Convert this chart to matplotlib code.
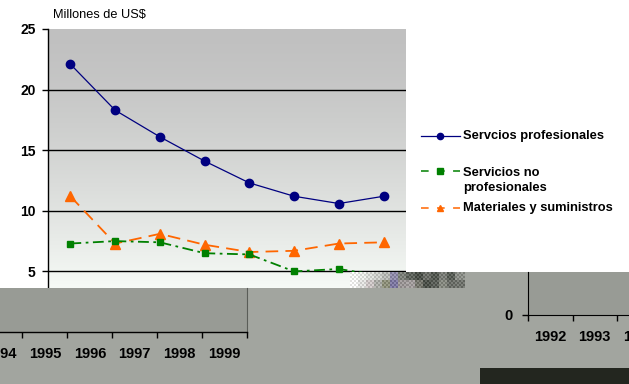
import numpy as np
import matplotlib.pyplot as plt
from matplotlib.patches import Rectangle
from matplotlib.lines import Line2D

# main chart
years = ['1992', '1993', '1994', '1995', '1996', '1997', '1998', '1999']
prof = [22.1, 18.3, 16.1, 14.1, 12.3, 11.2, 10.6, 11.2]
no_prof = [7.3, 7.5, 7.4, 6.5, 6.4, 5.0, 5.2, 4.6]
materiales = [11.2, 7.3, 8.1, 7.2, 6.6, 6.7, 7.3, 7.4]
yticks = [5, 10, 15, 20, 25]
labels = ['Servcios profesionales', 'Servicios no\nprofesionales', 'Materiales y suministros']

# pieces of the charts showing through underneath
lower_left_years = ['1994', '1995', '1996', '1997', '1998', '1999']
lower_right_years = ['1992', '1993', '1994']
lower_right_yticks = [0]

W, H = 629, 384


def fr(x, y, w, h):
    # pixel box, top-left origin -> figure rect
    return [x / W, 1 - (y + h) / H, w / W, h / H]


def fx(x):
    return x / W


def fy(y):
    return 1 - y / H


plt.rcParams['font.family'] = ['Liberation Sans', 'DejaVu Sans']
fig = plt.figure(figsize=(6.29, 3.84), dpi=100)
fig.patch.set_facecolor('white')

BG = '#a2a59f'
PLOT_GRAY = '#989b95'
NAVY, GREEN, ORANGE = '#000080', '#008000', '#ff6600'

# gray area below the main chart
fig.add_artist(Rectangle((0, 0), 1, fy(288), transform=fig.transFigure,
                         color=BG, lw=0, zorder=-2))
fig.add_artist(Rectangle((fx(464), fy(288)), 1 - fx(464), 16 / H,
                         transform=fig.transFigure, color=BG, lw=0, zorder=-2))

# ---- main chart
ax = fig.add_axes(fr(48, 29, 358, 259))
ymin = 25 - (288 - 29) / 12.12
t = np.linspace(0, 1, 256) ** 1.4
top = np.array([192, 192, 192]) / 255
bot = np.array([246, 250, 246]) / 255
grad = (top[None, :] * (1 - t[:, None]) + bot[None, :] * t[:, None])[:, None, :]
ax.imshow(grad, extent=[-0.5, 7.5, ymin, 25], aspect='auto', zorder=0)

ax.hlines([v for v in yticks if v < 25], -0.5, 7.5, color='black', lw=1, zorder=1)

x = np.arange(len(years))
ax.plot(x, materiales, color=ORANGE, lw=1.3, dashes=[7, 4], marker='^', ms=6.5, zorder=3)
ax.plot(x, no_prof, color=GREEN, lw=1.3, dashes=[6, 2.5, 1.5, 2.5], marker='s', ms=5, zorder=4)
ax.plot(x, prof, color=NAVY, lw=0.9, marker='o', ms=6, zorder=5)

ax.set_xlim(-0.5, 7.5)
ax.set_ylim(ymin, 25)
ax.set_yticks(yticks)
ax.set_xticks([])
ax.tick_params(axis='y', direction='out', length=4, width=1, pad=5, labelsize=10)
for lab in ax.get_yticklabels():
    lab.set_fontweight('bold')
for s in ['top', 'right', 'bottom']:
    ax.spines[s].set_visible(False)
ax.spines['left'].set_linewidth(1)

fig.text(fx(53), fy(15), 'Millones de US$', fontsize=9.2, ha='left', va='center')

# ---- legend, drawn by hand to match the uneven spacing
leg_y = [136, 171, 208]
styles = [dict(color=NAVY, lw=0.9, marker='o', ms=4.5),
          dict(color=GREEN, lw=1.1, dashes=[5, 5.5], marker='s', ms=4.5),
          dict(color=ORANGE, lw=1.1, dashes=[5, 5.5], marker='^', ms=5)]
for y, lab, st in zip(leg_y, labels, styles):
    fig.add_artist(Line2D([fx(421), fx(440), fx(460)], [fy(y)] * 3, markevery=[1],
                          transform=fig.transFigure, **st))
    if '\n' in lab:
        fig.text(fx(463), fy(y - 4.5), lab, fontsize=9.3, fontweight='bold',
                 ha='left', va='top', linespacing=1.38)
    else:
        fig.text(fx(463), fy(y), lab, fontsize=9.3, fontweight='bold',
                 ha='left', va='center')

# ---- lower-left fragment
axl = fig.add_axes(fr(0, 288, 247, 43.7), zorder=1)
axl.set_facecolor(PLOT_GRAY)
axl.set_xlim(0, len(lower_left_years) - 0.5)
axl.set_ylim(0, 1)
axl.set_yticks([])
axl.set_xticks(np.arange(len(lower_left_years)) + 0.5)
axl.set_xticklabels([])
axl.set_xticks(np.arange(len(lower_left_years)), minor=True)
axl.set_xticklabels(lower_left_years, minor=True, fontsize=10.5, fontweight='bold')
axl.tick_params(axis='x', which='major', direction='out', length=4, width=1)
axl.tick_params(axis='x', which='minor', length=0, pad=11)
axl.spines['top'].set_visible(False)
axl.spines['left'].set_visible(False)
axl.spines['right'].set_color('#5a5d58')
axl.spines['bottom'].set_linewidth(1)

# ---- lower-right fragment
axr = fig.add_axes(fr(528, 272, 133.5, 43), zorder=1)
axr.set_facecolor(PLOT_GRAY)
axr.set_xlim(-0.5, len(lower_right_years) - 0.5)
axr.set_ylim(0, 1)
axr.set_yticks(lower_right_yticks)
axr.tick_params(axis='y', direction='out', length=4, width=1, pad=7, labelsize=10.5)
for lab in axr.get_yticklabels():
    lab.set_fontweight('bold')
axr.set_xticks(np.arange(len(lower_right_years) + 1) - 0.5)
axr.set_xticklabels([])
axr.set_xticks(np.arange(len(lower_right_years)), minor=True)
axr.set_xticklabels(lower_right_years, minor=True, fontsize=10.5, fontweight='bold')
axr.tick_params(axis='x', which='major', direction='out', length=4, width=1)
axr.tick_params(axis='x', which='minor', length=0, pad=11)
axr.spines['top'].set_visible(False)
axr.spines['right'].set_visible(False)

# dark block bottom right
fig.add_artist(Rectangle((fx(480), 0), 1 - fx(480), 16 / H, transform=fig.transFigure,
                         color='#23261f', lw=0, zorder=5))

# ---- scrambled strip over the end of the plot
top_row = ['#eef0ec', '#e4e6e2', '#d6d8d4', '#c8cac6', '#b4b6b2', '#8f8aa8', '#7c8079',
           '#5f645d', '#4d524b', '#6b6e68', '#555a53', '#7a7d77', '#5a5f58', '#8a8d87', '#8a8d87']
bot_row = ['#f2f2f0', '#dcdcda', '#c9c2c2', '#a8a9a4', '#8d8f7a', '#7d78a0', '#9a9595',
           '#a09b9b', '#77786f', '#4e534c', '#5c605a', '#85887f', '#6c6f69', '#70736d', '#70736d']
hex2rgb = lambda h: [int(h[i:i + 2], 16) / 255 for i in (1, 3, 5)]
yy, xx = np.indices((16, 114))
blocks = np.array([[hex2rgb(c) for c in top_row], [hex2rgb(c) for c in bot_row]])
img = blocks[yy // 8, np.minimum(xx // 8, 14)]
checker = ((xx // 2 + yy // 2) % 2)[..., None]
img = np.clip(img + (checker - 0.5) * 0.12, 0, 1)
axg = fig.add_axes(fr(350, 272, 114, 16), zorder=3)
axg.imshow(img, aspect='auto', interpolation='nearest')
axg.axis('off')

fig.savefig('out.png', dpi=100)
